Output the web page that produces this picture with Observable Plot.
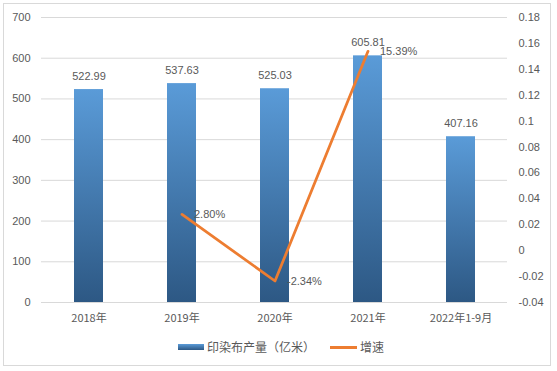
<!DOCTYPE html>
<html>
<head>
<meta charset="utf-8">
<script src="https://cdn.jsdelivr.net/npm/d3@7"></script>
<script src="https://cdn.jsdelivr.net/npm/@observablehq/plot@0.6"></script>
<style>
  html, body { margin: 0; padding: 0; background: #fff; }
  body { width: 557px; height: 371px; position: relative; overflow: hidden;
         font-family: "Liberation Sans", "Noto Sans CJK SC", sans-serif; }
  #frame { position: absolute; left: 3px; top: 3px; width: 546px; height: 361px;
           border: 1px solid #d9d9d9; pointer-events: none; }
  #chart { position: absolute; left: 0; top: 0; }
  .leg { position: absolute; font-size: 12px; color: #595959; line-height: 14px;
         font-family: "Noto Sans CJK SC", sans-serif; }
</style>
</head>
<body>
<div id="chart"></div>
<div id="frame"></div>
<div id="legend">
  <div style="position:absolute;left:178px;top:344px;width:26px;height:6px;background:linear-gradient(#5a9bd8,#2d5884);"></div>
  <div class="leg" style="left:207px;top:340px;">印染布产量（亿米）</div>
  <div style="position:absolute;left:330px;top:346px;width:27px;height:3px;background:#ed7d31;"></div>
  <div class="leg" style="left:360px;top:340px;">增速</div>
</div>
<script>
const categories = ["2018年", "2019年", "2020年", "2021年", "2022年1-9月"];
const output = [522.99, 537.63, 525.03, 605.81, 407.16];
const growthYears = ["2019年", "2020年", "2021年"];
const growth = [0.0280, -0.0234, 0.1539];
const growthLabels = ["2.80%", "-2.34%", "15.39%"];
const leftTicks = [0, 100, 200, 300, 400, 500, 600, 700];
const rightTicks = [-0.04, -0.02, 0, 0.02, 0.04, 0.06, 0.08, 0.1, 0.12, 0.14, 0.16, 0.18];

const L0 = 0, L1 = 700, R0 = -0.04, R1 = 0.18;
const toLeft = g => (g - R0) / (R1 - R0) * (L1 - L0) + L0;
const fromLeft = v => +((v - L0) / (L1 - L0) * (R1 - R0) + R0).toFixed(2);

const bars = categories.map((c, i) => ({cat: c, v: output[i]}));
const line = growthYears.map((c, i) => ({cat: c, g: growth[i], y: toLeft(growth[i]), label: growthLabels[i]}));

const textColor = "#595959";

const defs = () => {
  const ns = "http://www.w3.org/2000/svg";
  const d = document.createElementNS(ns, "defs");
  const lg = document.createElementNS(ns, "linearGradient");
  lg.setAttribute("id", "barGrad");
  lg.setAttribute("x1", "0"); lg.setAttribute("y1", "0");
  lg.setAttribute("x2", "0"); lg.setAttribute("y2", "1");
  [["0%", "#5a9bd8"], ["100%", "#2d5884"]].forEach(([o, c]) => {
    const s = document.createElementNS(ns, "stop");
    s.setAttribute("offset", o); s.setAttribute("stop-color", c);
    lg.appendChild(s);
  });
  d.appendChild(lg);
  return d;
};

const chart = Plot.plot({
  width: 557,
  height: 335,
  marginLeft: 41,
  marginRight: 50,
  marginTop: 17,
  marginBottom: 33,
  style: {fontFamily: "'Liberation Sans', 'Noto Sans CJK SC', sans-serif", fontSize: "11px", color: textColor, background: "transparent"},
  x: {domain: categories, paddingInner: 0.69, paddingOuter: 0.345, label: null},
  y: {domain: [L0, L1], label: null},
  marks: [
    defs,
    Plot.gridY(leftTicks, {stroke: "#d9d9d9", strokeOpacity: 1}),
    Plot.axisY(leftTicks, {anchor: "left", tickSize: 0, tickPadding: 11, label: null, fill: textColor, fontSize: 11}),
    Plot.axisY(rightTicks.map(toLeft), {anchor: "right", tickSize: 0, tickPadding: 11, label: null, textAnchor: "start", fill: textColor, fontSize: 11, tickFormat: d => String(fromLeft(d))}),
    Plot.axisX({tickSize: 0, tickPadding: 12, label: null, fill: textColor, fontSize: 11, fontFamily: "'Noto Sans CJK SC', sans-serif"}),
    Plot.barY(bars, {x: "cat", y: "v", fill: "url(#barGrad)"}),
    Plot.ruleY([0], {stroke: "#d9d9d9", strokeWidth: 1}),
    Plot.text(bars, {x: "cat", y: "v", text: d => d.v.toFixed(2), dy: -13, fill: textColor, fontSize: 11}),
    Plot.line(line, {x: "cat", y: "y", stroke: "#ed7d31", strokeWidth: 2.75, strokeLinecap: "round", strokeLinejoin: "round"}),
    Plot.text(line, {x: "cat", y: "y", text: "label", dx: 12, textAnchor: "start", fill: textColor, fontSize: 11})
  ]
});
document.getElementById("chart").appendChild(chart);
</script>
</body>
</html>
